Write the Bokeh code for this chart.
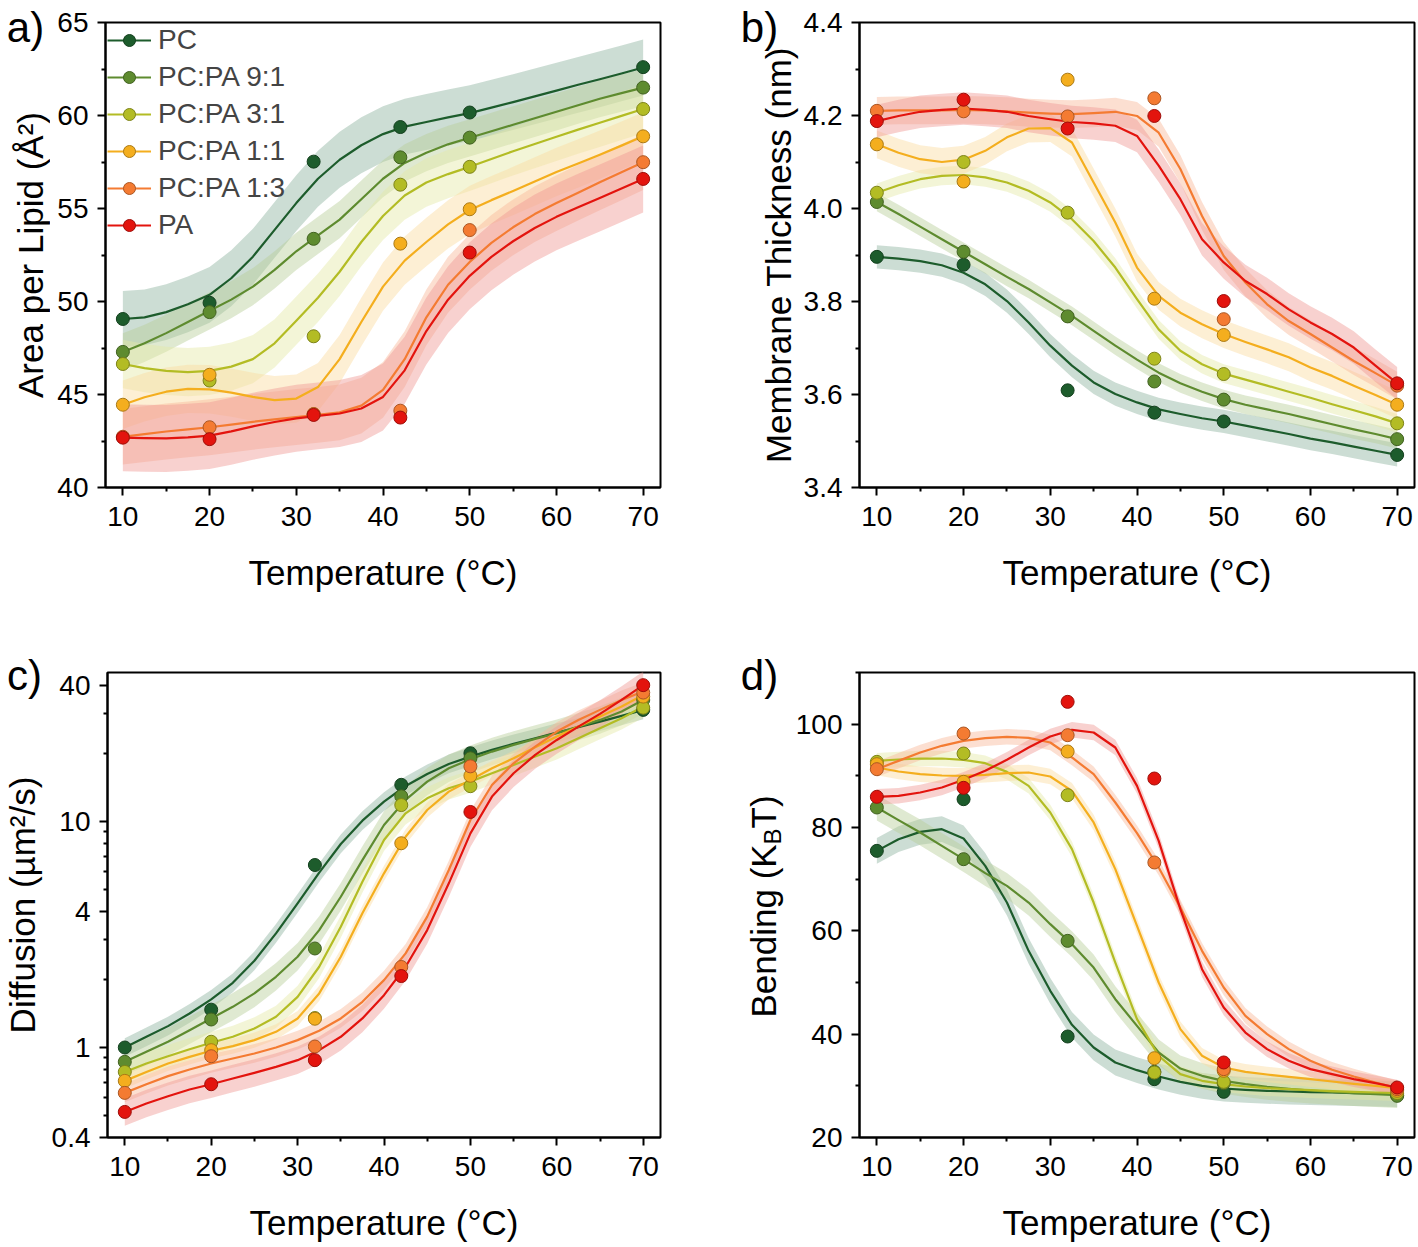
import math
from bokeh.plotting import figure
from bokeh.models import (Range1d, FixedTicker, PrintfTickFormatter, CustomJSTickFormatter,
                          Legend, LegendItem, LinearAxis)
from bokeh.layouts import column, row
from bokeh.embed import file_html
from bokeh.resources import INLINE
from bokeh.core.properties import value

# ---------------- data ----------------
SERIES = ["PC", "PC:PA 9:1", "PC:PA 3:1", "PC:PA 1:1", "PC:PA 1:3", "PA"]
COLORS = ["#1d5c2c", "#5e8b2f", "#b3bc24", "#f4ae1e", "#f47b32", "#e3140e"]
BAND_COLORS = ["#8fb3a0", "#b9cf98", "#e4e8a6", "#fbdca0", "#f8b89a", "#f09a95"]

TEMPS = [10, 20, 32, 42, 50, 70]
FIT_T = [10, 12.5, 15, 17.5, 20, 22.5, 25, 27.5, 30, 32.5, 35, 37.5, 40,
         42.5, 45, 47.5, 50, 52.5, 55, 57.5, 60, 62.5, 65, 67.5, 70]
X_TICKS = [10, 20, 30, 40, 50, 60, 70]
X_MINOR = [15, 25, 35, 45, 55, 65]

# a) Area per lipid
AREA_PTS = [
    [49.06, 49.93, 57.52, 59.38, 60.16, 62.60],
    [47.29, 49.43, 53.37, 57.75, 58.81, 61.50],
    [46.64, 45.75, 48.13, 56.28, 57.24, 60.35],
    [44.45, 46.06, 43.95, 53.11, 54.96, 58.88],
    [42.73, 43.24, 43.94, 44.13, 53.84, 57.49],
    [42.68, 42.60, 43.90, 43.76, 52.63, 56.59],
]
AREA_FIT = [
    [49.06, 49.15, 49.43, 49.85, 50.36, 51.25, 52.41, 53.85, 55.29, 56.60, 57.62, 58.40, 59.00,
     59.40, 59.65, 59.90, 60.13, 60.42, 60.72, 61.03, 61.34, 61.65, 61.95, 62.26, 62.58],
    [47.29, 47.75, 48.30, 48.90, 49.50, 50.10, 50.80, 51.70, 52.70, 53.55, 54.40, 55.50, 56.60,
     57.45, 58.00, 58.45, 58.80, 59.15, 59.50, 59.85, 60.20, 60.55, 60.90, 61.20, 61.50],
    [46.64, 46.42, 46.27, 46.20, 46.27, 46.50, 46.90, 47.75, 48.97, 50.20, 51.60, 53.20, 54.60,
     55.70, 56.40, 56.85, 57.24, 57.66, 58.08, 58.47, 58.86, 59.24, 59.61, 59.98, 60.35],
    [44.45, 44.85, 45.15, 45.30, 45.28, 45.10, 44.87, 44.70, 44.78, 45.40, 46.90, 48.90, 50.80,
     52.20, 53.20, 54.15, 54.92, 55.45, 55.94, 56.45, 56.96, 57.42, 57.89, 58.38, 58.88],
    [42.73, 42.87, 43.01, 43.12, 43.24, 43.38, 43.53, 43.66, 43.79, 43.90, 44.04, 44.40, 45.25,
     46.90, 49.15, 50.90, 52.13, 53.15, 53.99, 54.70, 55.29, 55.85, 56.41, 56.95, 57.49],
    [42.68, 42.65, 42.64, 42.70, 42.79, 43.02, 43.29, 43.52, 43.72, 43.85, 43.98, 44.25, 44.87,
     46.30, 48.41, 50.10, 51.38, 52.40, 53.24, 53.95, 54.55, 55.07, 55.57, 56.08, 56.59],
]
AREA_BAND = [1.5, 1.0, 1.3, 1.3, 1.5, 1.8]
AREA_TICKS = [40, 45, 50, 55, 60, 65]
AREA_MINOR = [42.5, 47.5, 52.5, 57.5, 62.5]

# b) Membrane thickness
THICK_PTS = [
    [3.896, 3.879, 3.609, 3.561, 3.542, 3.470],
    [4.014, 3.907, 3.768, 3.628, 3.589, 3.504],
    [4.034, 4.100, 3.991, 3.677, 3.644, 3.538],
    [4.138, 4.058, 4.277, 3.806, 3.728, 3.578],
    [4.210, 4.209, 4.198, 4.237, 3.762, 3.619],
    [4.188, 4.234, 4.172, 4.199, 3.801, 3.624],
]
THICK_FIT = [
    [3.896, 3.892, 3.887, 3.878, 3.862, 3.837, 3.801, 3.755, 3.705, 3.662, 3.626, 3.601, 3.583,
     3.568, 3.558, 3.549, 3.542, 3.533, 3.524, 3.515, 3.505, 3.497, 3.488, 3.479, 3.470],
    [4.014, 3.988, 3.961, 3.934, 3.907, 3.880, 3.853, 3.827, 3.798, 3.769, 3.737, 3.705, 3.675,
     3.647, 3.624, 3.606, 3.590, 3.578, 3.568, 3.558, 3.547, 3.536, 3.525, 3.515, 3.504],
    [4.034, 4.050, 4.063, 4.070, 4.072, 4.067, 4.056, 4.038, 4.013, 3.977, 3.930, 3.873, 3.805,
     3.740, 3.694, 3.665, 3.645, 3.632, 3.619, 3.606, 3.593, 3.579, 3.566, 3.553, 3.538],
    [4.138, 4.120, 4.106, 4.100, 4.105, 4.124, 4.153, 4.172, 4.173, 4.142, 4.056, 3.970, 3.873,
     3.812, 3.776, 3.751, 3.730, 3.713, 3.697, 3.680, 3.658, 3.640, 3.619, 3.599, 3.578],
    [4.210, 4.211, 4.211, 4.211, 4.212, 4.211, 4.209, 4.206, 4.204, 4.203, 4.205, 4.208, 4.199,
     4.163, 4.085, 3.984, 3.898, 3.841, 3.794, 3.758, 3.730, 3.701, 3.672, 3.646, 3.619],
    [4.188, 4.199, 4.208, 4.212, 4.215, 4.212, 4.208, 4.199, 4.192, 4.186, 4.183, 4.178, 4.156,
     4.092, 4.020, 3.934, 3.884, 3.844, 3.816, 3.783, 3.755, 3.730, 3.701, 3.662, 3.624],
]
THICK_BAND = [0.025, 0.02, 0.02, 0.03, 0.03, 0.035]
THICK_TICKS = [3.4, 3.6, 3.8, 4.0, 4.2, 4.4]
THICK_MINOR = [3.5, 3.7, 3.9, 4.1, 4.3]

# c) Diffusion (log scale)
DIFF_PTS = [
    [1.00, 1.47, 6.41, 14.5, 20.0, 31.1],
    [0.864, 1.33, 2.74, 12.9, 19.0, 34.4],
    [0.780, 1.06, 1.35, 11.8, 14.3, 31.8],
    [0.712, 0.973, 1.34, 8.0, 15.9, 35.6],
    [0.630, 0.915, 1.01, 2.27, 17.5, 37.1],
    [0.519, 0.688, 0.879, 2.07, 11.0, 40.0],
]
DIFF_FIT = [
    [1.00, 1.115, 1.243, 1.414, 1.631, 1.932, 2.418, 3.194, 4.337, 5.93, 7.94, 10.07, 12.22,
     14.33, 16.20, 17.93, 19.33, 20.69, 21.99, 23.30, 24.68, 26.06, 27.61, 29.25, 31.10],
    [0.864, 0.957, 1.060, 1.193, 1.344, 1.513, 1.734, 2.054, 2.519, 3.305, 4.64, 6.74, 9.63,
     12.43, 14.98, 17.16, 18.81, 20.34, 21.77, 23.14, 24.51, 26.23, 28.08, 30.57, 34.4],
    [0.780, 0.850, 0.915, 0.983, 1.049, 1.115, 1.214, 1.367, 1.675, 2.275, 3.42, 5.41, 8.27,
     10.85, 12.64, 14.00, 14.98, 16.31, 17.76, 19.33, 21.04, 23.30, 25.80, 28.56, 32.17],
    [0.712, 0.780, 0.850, 0.909, 0.967, 1.014, 1.078, 1.173, 1.344, 1.734, 2.519, 3.92, 5.89,
     8.55, 11.22, 13.53, 15.23, 17.16, 19.0, 21.26, 23.70, 26.23, 29.04, 32.17, 36.2],
    [0.630, 0.688, 0.747, 0.799, 0.850, 0.894, 0.941, 1.000, 1.078, 1.185, 1.344, 1.593, 1.986,
     2.606, 3.79, 6.09, 10.14, 14.48, 18.06, 21.40, 24.94, 28.08, 31.10, 34.43, 37.47],
    [0.519, 0.565, 0.609, 0.652, 0.688, 0.729, 0.772, 0.821, 0.879, 0.973, 1.115, 1.344, 1.704,
     2.275, 3.305, 5.32, 8.85, 12.86, 16.31, 19.66, 22.90, 26.23, 29.85, 34.43, 40.0],
]
DIFF_BAND = [1.10, 1.15, 1.12, 1.08, 1.10, 1.15]
DIFF_TICKS = [0.4, 1, 4, 10, 40]
DIFF_MINOR = [0.5, 0.6, 0.7, 0.8, 0.9, 2, 3, 5, 6, 7, 8, 9, 20, 30]

# d) Bending rigidity
BEND_PTS = [
    [75.48, 85.48, 39.55, 31.29, 28.84, 28.19],
    [83.87, 73.87, 58.06, 32.71, 30.52, 28.06],
    [92.71, 94.32, 86.26, 32.58, 30.77, 28.58],
    [92.26, 88.84, 94.71, 35.35, 32.90, 29.03],
    [91.29, 98.19, 97.87, 73.23, 33.23, 29.35],
    [85.94, 87.68, 104.32, 89.48, 34.52, 29.68],
]
BEND_FIT = [
    [75.48, 77.74, 79.16, 79.68, 77.87, 72.58, 65.48, 56.13, 48.39, 41.81, 37.42, 34.52, 33.03,
     31.81, 30.77, 30.00, 29.48, 29.23, 29.03, 28.90, 28.77, 28.71, 28.58, 28.52, 28.39],
    [83.87, 81.42, 79.03, 76.45, 73.87, 71.16, 68.71, 65.48, 61.29, 57.42, 52.90, 46.77, 41.61,
     36.45, 33.35, 31.94, 30.97, 30.32, 29.81, 29.42, 29.10, 28.84, 28.58, 28.39, 28.19],
    [92.90, 93.16, 93.35, 93.35, 93.10, 92.45, 90.77, 88.06, 82.90, 75.81, 65.48, 53.87, 42.90,
     35.81, 32.26, 30.97, 30.32, 29.87, 29.55, 29.35, 29.16, 28.97, 28.84, 28.71, 28.58],
    [91.61, 90.84, 90.32, 90.06, 90.00, 90.19, 90.52, 90.65, 89.87, 87.10, 80.97, 71.94, 60.97,
     50.00, 40.97, 35.81, 33.55, 32.71, 32.19, 31.74, 31.29, 30.84, 30.39, 30.00, 29.55],
    [91.29, 92.90, 94.52, 95.81, 96.77, 97.29, 97.55, 97.35, 96.45, 93.55, 90.32, 84.84, 78.90,
     72.26, 64.52, 56.13, 49.03, 43.55, 40.00, 37.10, 34.84, 33.10, 31.81, 30.65, 29.55],
    [85.94, 86.13, 86.77, 87.74, 89.23, 90.97, 93.10, 95.48, 97.61, 98.90, 98.39, 95.48, 88.06,
     77.42, 64.19, 52.58, 45.16, 40.32, 37.10, 34.84, 33.23, 32.26, 31.29, 30.52, 29.68],
]
BEND_BAND = [2.5, 2.5, 1.5, 1.5, 1.5, 1.5]
BEND_TICKS = [20, 40, 60, 80, 100]
BEND_MINOR = [30, 50, 70, 90, 110]

FONT = "Liberation Sans"
ROW1_H = 648
ROW2_H = 598
FRAME_H = 465


def darker(hex_color, f=0.7):
    r, g, b = (int(hex_color[i:i + 2], 16) for i in (1, 3, 5))
    return "#%02x%02x%02x" % (int(r * f), int(g * f), int(b * f))


def make_panel(width, height, left, right, top, bottom, y_range, yticks, yminor,
               pts, fit, band, log=False, fmt=None):
    p = figure(width=width, height=height, x_range=Range1d(8, 72), y_range=y_range,
               y_axis_type="log" if log else "linear",
               output_backend="svg", toolbar_location=None,
               min_border_left=left, min_border_right=right,
               min_border_top=top, min_border_bottom=bottom)
    p.xgrid.visible = False
    p.ygrid.visible = False
    p.outline_line_color = "black"
    p.outline_line_width = 2
    p.background_fill_color = "white"
    p.border_fill_color = "white"

    p.xaxis.ticker = FixedTicker(ticks=X_TICKS, minor_ticks=X_MINOR)
    p.yaxis.ticker = FixedTicker(ticks=yticks, minor_ticks=yminor)
    if fmt is not None:
        p.yaxis.formatter = fmt
    for ax in (p.xaxis[0], p.yaxis[0]):
        ax.axis_line_width = 2
        ax.major_tick_line_width = 2
        ax.minor_tick_line_width = 2
        ax.major_tick_out = 8
        ax.major_tick_in = 0
        ax.minor_tick_out = 4
        ax.minor_tick_in = 0
        ax.major_label_text_font = FONT
        ax.major_label_text_font_size = "28px"
        ax.major_label_text_color = "black"
        ax.axis_label_text_font = FONT
        ax.axis_label_text_font_size = "35px"
        ax.axis_label_text_font_style = "normal"
        ax.axis_label_text_color = "black"
    p.xaxis.axis_label = "Temperature (°C)"
    p.xaxis.major_label_standoff = 11
    p.xaxis.axis_label_standoff = 24
    p.yaxis.major_label_standoff = 9

    for i in range(len(SERIES)):
        if log:
            lo = [v / band[i] for v in fit[i]]
            hi = [v * band[i] for v in fit[i]]
        else:
            lo = [v - band[i] for v in fit[i]]
            hi = [v + band[i] for v in fit[i]]
        p.varea(x=FIT_T, y1=lo, y2=hi, fill_color=BAND_COLORS[i], fill_alpha=0.45)
    lines, dots = [], []
    for i in range(len(SERIES)):
        lines.append(p.line(FIT_T, fit[i], line_color=COLORS[i], line_width=2.2,
                            line_join="round"))
    for i in range(len(SERIES)):
        dots.append(p.scatter(TEMPS, pts[i], size=13, fill_color=COLORS[i],
                              line_color=darker(COLORS[i]), line_width=1))
    return p, lines, dots


def gutter(width, height, top, bottom):
    # frame of this helper figure lines up with the neighbouring panel's frame;
    # its coordinates are pixels measured from the frame's bottom-left corner
    g = figure(width=width, height=height, x_range=Range1d(0, width),
               y_range=Range1d(0, height - top - bottom),
               output_backend="svg", toolbar_location=None,
               x_axis_location=None, y_axis_location=None,
               min_border_left=0, min_border_right=0,
               min_border_top=top, min_border_bottom=bottom)
    g.xgrid.visible = False
    g.ygrid.visible = False
    g.outline_line_color = None
    g.background_fill_color = "white"
    g.border_fill_color = "white"
    return g


def add_text(g, text, x, y, size, angle=0.0, align="left"):
    g.text(x=[x], y=[y], text=[text], text_font=value(FONT), text_font_size=value(size),
           text_color="black", angle=angle, text_align=align, text_baseline="middle")


def add_letter(g, text, cx, standoff):
    ax = LinearAxis(ticker=FixedTicker(ticks=[cx], minor_ticks=[]),
                    major_label_overrides={cx: text},
                    axis_line_color=None, major_tick_line_color=None,
                    minor_tick_line_color=None, major_tick_out=0, major_tick_in=0,
                    minor_tick_out=0, minor_tick_in=0,
                    major_label_standoff=standoff,
                    major_label_text_font=FONT, major_label_text_font_size="42px",
                    major_label_text_color="black")
    g.add_layout(ax, "above")


fmt1 = PrintfTickFormatter(format="%.1f")
fmt_log = CustomJSTickFormatter(code="return tick.toString();")

# row 1
gA = gutter(50, ROW1_H, 22, 161)
pa, la, da = make_panel(659, ROW1_H, 55, 49, 22, 161, Range1d(40, 65), AREA_TICKS, AREA_MINOR,
                        AREA_PTS, AREA_FIT, AREA_BAND)
gB = gutter(91, ROW1_H, 22, 161)
pb, _, _ = make_panel(616, ROW1_H, 59, 2, 22, 161, Range1d(3.4, 4.4), THICK_TICKS, THICK_MINOR,
                      THICK_PTS, THICK_FIT, THICK_BAND, fmt=fmt1)
# row 2
gC = gutter(48, ROW2_H, 24, 109)
pc, _, _ = make_panel(661, ROW2_H, 57, 49, 24, 109, Range1d(0.4, 45.5), DIFF_TICKS, DIFF_MINOR,
                      DIFF_PTS, DIFF_FIT, DIFF_BAND, log=True, fmt=fmt_log)
gD = gutter(81, ROW2_H, 24, 109)
pd, _, _ = make_panel(626, ROW2_H, 69, 2, 24, 109, Range1d(20, 110), BEND_TICKS, BEND_MINOR,
                      BEND_PTS, BEND_FIT, BEND_BAND)

# legend in panel a
items = [LegendItem(label=SERIES[i], renderers=[la[i], da[i]]) for i in range(len(SERIES))]
leg = Legend(items=items, location="top_left", margin=0, padding=2, spacing=5,
             glyph_width=44, glyph_height=30, label_height=30, label_standoff=7,
             label_text_font=FONT, label_text_font_size="28px",
             background_fill_alpha=0, border_line_alpha=0)
pa.add_layout(leg)

V = math.pi / 2
MID = FRAME_H / 2
# panel letters, drawn as tick labels of label-only axes above each helper frame
add_letter(gA, "a)", 25, -28)
add_letter(gB, "b)", 50, -28)
add_letter(gC, "c)", 24, -26)
add_letter(gD, "d)", 50, -26)
# y titles
add_text(gA, "Area per Lipid (Å²)", 30, MID, "35px", angle=V, align="center")
add_text(gB, "Membrane Thickness (nm)", 69, MID, "35px", angle=V, align="center")
add_text(gC, "Diffusion (µm²/s)", 22, MID, "35px", angle=V, align="center")
# Bending (K_B T) assembled from pieces for the subscript
add_text(gD, "Bending (K", 54, 120, "35px", angle=V)
add_text(gD, "B", 63, 293, "24px", angle=V)
add_text(gD, "T)", 54, 309, "35px", angle=V)

layout = column(row(gA, pa, gB, pb), row(gC, pc, gD, pd))
open("out.html", "w").write(file_html(layout, INLINE))
